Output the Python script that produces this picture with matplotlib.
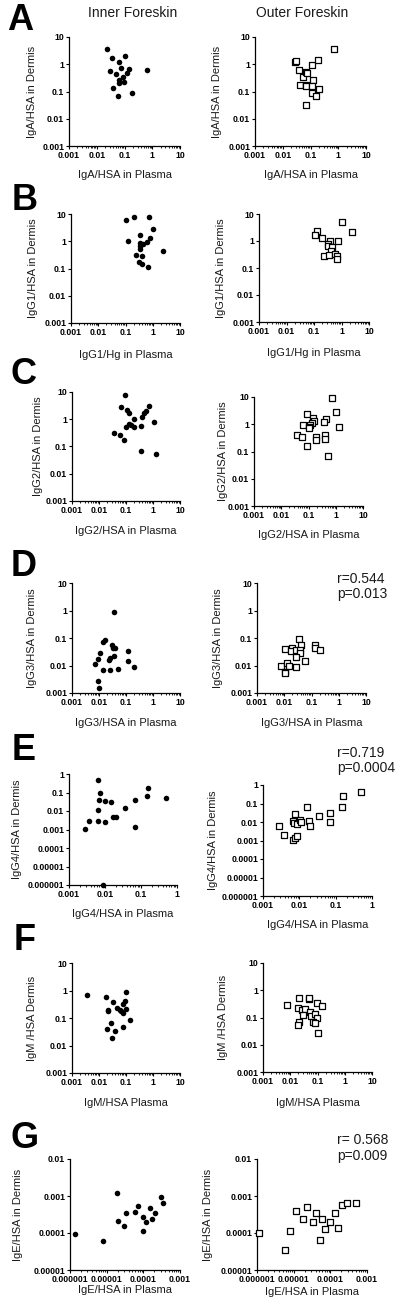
import matplotlib
matplotlib.use('Agg')
import matplotlib.pyplot as plt
from matplotlib.ticker import LogLocator, NullLocator, NullFormatter

plt.rcParams['font.family'] = ['Liberation Sans', 'DejaVu Sans']

W, H = 400, 1306

# ---------------- data ----------------
a_inner_x = [0.024, 0.035, 0.10, 0.029, 0.065, 0.072, 0.14, 0.123, 0.049, 0.063, 0.066, 0.098, 0.040, 0.058, 0.19, 0.67, 0.092]
a_inner_y = [3.7, 1.7, 1.95, 0.55, 1.17, 0.75, 0.67, 0.48, 0.44, 0.27, 0.21, 0.23, 0.13, 0.071, 0.089, 0.63, 0.34]
a_outer_x = [0.028, 0.031, 0.039, 0.054, 0.043, 0.071, 0.072, 0.068, 0.070, 0.118, 0.185, 0.123, 0.113, 0.113, 0.16, 0.20, 0.068, 0.71]
a_outer_y = [1.2, 1.3, 0.6, 0.34, 0.18, 0.54, 0.47, 0.18, 0.16, 0.93, 1.4, 0.26, 0.155, 0.089, 0.068, 0.12, 0.031, 3.5]

b_inner_x = [0.104, 0.20, 0.73, 1.05, 0.123, 0.34, 0.79, 0.33, 0.33, 0.45, 0.60, 0.33, 0.24, 0.41, 0.32, 0.39, 0.67, 2.4]
b_inner_y = [5.9, 7.6, 8.0, 2.7, 1.05, 1.7, 1.35, 0.87, 0.69, 0.79, 0.90, 0.52, 0.31, 0.29, 0.18, 0.15, 0.11, 0.44]
b_outer_x = [1.06, 2.4, 0.125, 0.105, 0.195, 0.38, 0.75, 0.32, 0.33, 0.46, 0.43, 0.24, 0.36, 0.57, 0.71, 0.66]
b_outer_y = [4.9, 2.1, 2.4, 1.67, 1.34, 1.0, 1.0, 0.76, 0.65, 0.61, 0.41, 0.29, 0.30, 0.32, 0.29, 0.22]

c_inner_x = [0.091, 0.063, 0.69, 0.11, 0.134, 0.45, 0.55, 0.39, 0.19, 1.05, 0.13, 0.155, 0.10, 0.19, 0.37, 0.037, 0.058, 0.083, 0.37, 1.27]
c_inner_y = [7.5, 2.8, 3.0, 2.25, 1.7, 1.7, 1.95, 1.2, 1.0, 0.82, 0.69, 0.59, 0.50, 0.53, 0.55, 0.30, 0.27, 0.18, 0.068, 0.053]
c_outer_x = [0.71, 1.05, 0.091, 0.147, 0.163, 0.138, 0.43, 0.36, 0.065, 0.11, 0.10, 0.105, 1.32, 0.038, 0.059, 0.19, 0.19, 0.39, 0.39, 0.086, 0.53]
c_outer_y = [9.5, 2.7, 2.45, 1.7, 1.32, 1.1, 1.5, 1.17, 0.97, 0.97, 0.76, 0.70, 0.76, 0.42, 0.35, 0.34, 0.27, 0.40, 0.28, 0.16, 0.069]

d_inner_x = [0.036, 0.0167, 0.0145, 0.031, 0.034, 0.039, 0.12, 0.0107, 0.0093, 0.025, 0.023, 0.036, 0.117, 0.0072, 0.195, 0.0137, 0.026, 0.050, 0.009, 0.010]
d_inner_y = [0.87, 0.085, 0.071, 0.055, 0.045, 0.042, 0.033, 0.028, 0.017, 0.018, 0.016, 0.022, 0.014, 0.011, 0.0091, 0.0068, 0.0068, 0.0076, 0.0027, 0.0015]
d_outer_x = [0.035, 0.132, 0.041, 0.14, 0.21, 0.0107, 0.019, 0.017, 0.028, 0.039, 0.039, 0.026, 0.057, 0.0077, 0.0126, 0.0154, 0.028, 0.0107, 0.011]
d_outer_y = [0.091, 0.054, 0.055, 0.042, 0.036, 0.040, 0.045, 0.035, 0.036, 0.038, 0.029, 0.021, 0.015, 0.010, 0.012, 0.0095, 0.0087, 0.0059, 0.0053]

e_inner_x = [0.0063, 0.0072, 0.0066, 0.0098, 0.015, 0.0065, 0.035, 0.069, 0.146, 0.158, 0.49, 0.017, 0.020, 0.0062, 0.0035, 0.010, 0.0027, 0.067, 0.0086]
e_inner_y = [0.49, 0.093, 0.041, 0.033, 0.029, 0.0117, 0.0144, 0.037, 0.061, 0.166, 0.052, 0.0045, 0.0049, 0.0029, 0.0028, 0.0024, 0.0011, 0.0013, 0.000001]
e_outer_x = [0.49, 0.16, 0.15, 0.016, 0.035, 0.07, 0.07, 0.0076, 0.0068, 0.0072, 0.0089, 0.0104, 0.011, 0.018, 0.0196, 0.0028, 0.0037, 0.0065, 0.0074, 0.0087]
e_outer_y = [0.40, 0.25, 0.062, 0.066, 0.022, 0.029, 0.010, 0.028, 0.0117, 0.0083, 0.0076, 0.0126, 0.010, 0.012, 0.006, 0.0063, 0.0021, 0.00105, 0.00144, 0.0017]

f_inner_x = [0.0035, 0.018, 0.098, 0.034, 0.021, 0.022, 0.047, 0.058, 0.063, 0.079, 0.088, 0.096, 0.076, 0.138, 0.029, 0.019, 0.040, 0.030, 0.079]
f_inner_y = [0.66, 0.60, 0.90, 0.37, 0.19, 0.18, 0.24, 0.20, 0.18, 0.31, 0.43, 0.22, 0.15, 0.087, 0.067, 0.041, 0.034, 0.019, 0.047]
f_outer_x = [0.0077, 0.021, 0.047, 0.050, 0.097, 0.15, 0.019, 0.026, 0.036, 0.053, 0.030, 0.058, 0.083, 0.093, 0.070, 0.083, 0.021, 0.020, 0.105]
f_outer_y = [0.29, 0.51, 0.47, 0.50, 0.35, 0.27, 0.23, 0.19, 0.20, 0.165, 0.12, 0.11, 0.13, 0.093, 0.066, 0.061, 0.071, 0.051, 0.026]

g_inner_x = [1.37e-6, 7.9e-6, 1.9e-5, 2.0e-5, 3.0e-5, 3.4e-5, 5.9e-5, 7.1e-5, 9.8e-5, 1.2e-4, 1.5e-4, 1.7e-4, 2.1e-4, 3.0e-4, 3.4e-4, 1.0e-4]
g_inner_y = [9.4e-5, 6.1e-5, 1.2e-3, 2.1e-4, 1.5e-4, 3.5e-4, 3.7e-4, 5.4e-4, 2.7e-4, 2.0e-4, 4.8e-4, 2.4e-4, 3.5e-4, 9.4e-4, 6.5e-4, 1.1e-4]
g_outer_x = [1.13e-6, 5.8e-6, 7.9e-6, 1.15e-5, 1.8e-5, 2.3e-5, 3.4e-5, 4.0e-5, 5.2e-5, 7.1e-5, 9.8e-5, 1.3e-4, 1.6e-4, 2.1e-4, 2.8e-4, 5.0e-4, 5.9e-5]
g_outer_y = [1.0e-4, 3.5e-5, 1.1e-4, 3.9e-4, 2.4e-4, 5.0e-4, 2.0e-4, 3.5e-4, 6.5e-5, 1.3e-4, 2.0e-4, 3.5e-4, 1.4e-4, 5.7e-4, 6.5e-4, 6.5e-4, 2.4e-4]

# tick values / labels
std_ticks = [0.001, 0.01, 0.1, 1, 10]
std_labels = ['0.001', '0.01', '0.1', '1', '10']
e_x_ticks = [0.001, 0.01, 0.1, 1]
e_x_labels = ['0.001', '0.01', '0.1', '1']
e_y_ticks = [1e-6, 1e-5, 1e-4, 1e-3, 1e-2, 1e-1, 1]
e_y_labels = ['0.000001', '0.00001', '0.0001', '0.001', '0.01', '0.1', '1']
g_x_ticks = [1e-6, 1e-5, 1e-4, 1e-3]
g_x_labels = ['0.000001', '0.00001', '0.0001', '0.001']
g_y_ticks = [1e-5, 1e-4, 1e-3, 1e-2]
g_y_labels = ['0.00001', '0.0001', '0.001', '0.01']

fig = plt.figure(figsize=(W / 100, H / 100), dpi=100)


def panel(box, xs, ys, filled, xt, xl, yt, yl, xlabel, ylabel, xlab_y, ylab_x):
    x0, x1, y0, y1 = box
    ax = fig.add_axes([x0 / W, 1 - y1 / H, (x1 - x0) / W, (y1 - y0) / H])
    ax.set_xscale('log')
    ax.set_yscale('log')
    ax.set_xlim(xt[0], xt[-1])
    ax.set_ylim(yt[0], yt[-1])
    if filled:
        ax.scatter(xs, ys, s=16, marker='o', color='black', linewidths=0, clip_on=False, zorder=3)
    else:
        ax.scatter(xs, ys, s=15, marker='s', facecolors='white', edgecolors='black',
                   linewidths=0.9, clip_on=False, zorder=3)
    for sp in ['top', 'right']:
        ax.spines[sp].set_visible(False)
    for sp in ['left', 'bottom']:
        ax.spines[sp].set_linewidth(0.9)
    ax.set_xticks(xt)
    ax.set_xticklabels(xl)
    ax.set_yticks(yt)
    ax.set_yticklabels(yl)
    ax.xaxis.set_minor_locator(LogLocator(base=10, subs=[2, 3, 4, 5, 6, 7, 8, 9], numticks=20))
    ax.xaxis.set_minor_formatter(NullFormatter())
    ax.yaxis.set_minor_locator(NullLocator())
    ax.tick_params(which='major', length=2.5, width=0.8, labelsize=6.3, pad=1)
    ax.tick_params(which='minor', length=1.3, width=0.6)
    for t in ax.get_xticklabels() + ax.get_yticklabels():
        t.set_fontweight('bold')
    ax.set_xlabel(xlabel, fontsize=8, color='#1a1a1a')
    ax.xaxis.label.set_va('center')
    ax.xaxis.set_label_coords(0.5, (y1 - xlab_y) / (y1 - y0))
    ax.set_ylabel(ylabel, fontsize=8, color='#1a1a1a', va='center', ha='center')
    ax.yaxis.set_label_coords((ylab_x - x0) / (x1 - x0), 0.5)
    return ax


panel((69, 180, 37, 146), a_inner_x, a_inner_y, True, std_ticks, std_labels, std_ticks, std_labels,
      'IgA/HSA in Plasma', 'IgA/HSA in Dermis', 175, 32)
panel((255, 366, 37, 146), a_outer_x, a_outer_y, False, std_ticks, std_labels, std_ticks, std_labels,
      'IgA/HSA in Plasma', 'IgA/HSA in Dermis', 175, 217)

panel((71, 180, 214, 323), b_inner_x, b_inner_y, True, std_ticks, std_labels, std_ticks, std_labels,
      'IgG1/Hg in Plasma', 'IgG1/HSA in Dermis', 355, 33)
panel((259, 369, 214, 322), b_outer_x, b_outer_y, False, std_ticks, std_labels, std_ticks, std_labels,
      'IgG1/Hg in Plasma', 'IgG1/HSA in Dermis', 353, 221)

panel((72, 180, 392, 501), c_inner_x, c_inner_y, True, std_ticks, std_labels, std_ticks, std_labels,
      'IgG2/HSA in Plasma', 'IgG2/HSA in Dermis', 531, 38)
panel((254, 363, 397, 506), c_outer_x, c_outer_y, False, std_ticks, std_labels, std_ticks, std_labels,
      'IgG2/HSA in Plasma', 'IgG2/HSA in Dermis', 535, 223)

panel((72, 180, 583, 693), d_inner_x, d_inner_y, True, std_ticks, std_labels, std_ticks, std_labels,
      'IgG3/HSA in Plasma', 'IgG3/HSA in Dermis', 723, 32)
panel((257, 366, 583, 693), d_outer_x, d_outer_y, False, std_ticks, std_labels, std_ticks, std_labels,
      'IgG3/HSA in Plasma', 'IgG3/HSA in Dermis', 723, 218)

panel((69, 177, 774, 885), e_inner_x, e_inner_y, True, e_x_ticks, e_x_labels, e_y_ticks, e_y_labels,
      'IgG4/HSA in Plasma', 'IgG4/HSA in Dermis', 914, 17)
panel((263, 372, 785, 896), e_outer_x, e_outer_y, False, e_x_ticks, e_x_labels, e_y_ticks, e_y_labels,
      'IgG4/HSA in Plasma', 'IgG4/HSA in Dermis', 925, 213)

panel((72, 180, 963, 1073), f_inner_x, f_inner_y, True, std_ticks, std_labels, std_ticks, std_labels,
      'IgM/HSA Plasma', 'IgM /HSA Dermis', 1103, 32)
panel((263, 372, 963, 1072), f_outer_x, f_outer_y, False, std_ticks, std_labels, std_ticks, std_labels,
      'IgM/HSA Plasma', 'IgM /HSA Dermis', 1103, 223)

panel((70, 180, 1159, 1270), g_inner_x, g_inner_y, True, g_x_ticks, g_x_labels, g_y_ticks, g_y_labels,
      'IgE/HSA in Plasma', 'IgE/HSA in Dermis', 1290, 18)
panel((257, 367, 1159, 1270), g_outer_x, g_outer_y, False, g_x_ticks, g_x_labels, g_y_ticks, g_y_labels,
      'IgE/HSA in Plasma', 'IgE/HSA in Dermis', 1292, 208)

# column titles
fig.text(133 / W, 1 - 13 / H, 'Inner Foreskin', ha='center', va='center', fontsize=10, color='#1a1a1a')
fig.text(302 / W, 1 - 13 / H, 'Outer Foreskin', ha='center', va='center', fontsize=10, color='#1a1a1a')

# panel letters
letters = ['A', 'B', 'C', 'D', 'E', 'F', 'G']
letter_pos = [(20, 21), (25, 200), (24, 375), (24, 566), (24, 750), (25, 940), (25, 1139)]
for lt, (lx, ly) in zip(letters, letter_pos):
    fig.text(lx / W, 1 - ly / H, lt, ha='center', va='center', fontsize=26, fontweight='bold')

# correlation annotations
annots = [('r=0.544', 'p=0.013', 579, 594), ('r=0.719', 'p=0.0004', 753, 768), ('r= 0.568', 'p=0.009', 1140, 1156)]
for rt, pt, ry, py in annots:
    fig.text(337 / W, 1 - ry / H, rt, ha='left', va='center', fontsize=10, color='#1a1a1a')
    fig.text(337 / W, 1 - py / H, pt, ha='left', va='center', fontsize=10, color='#1a1a1a')

fig.savefig('out.png', dpi=100, facecolor='white')
